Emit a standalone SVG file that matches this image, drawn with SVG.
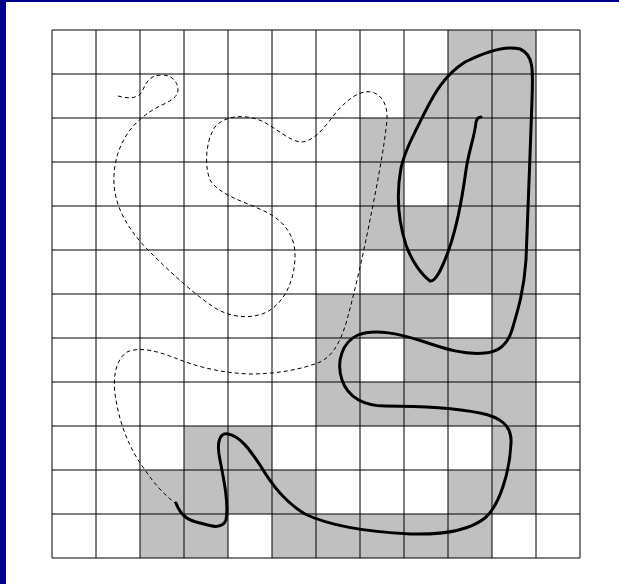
<svg xmlns="http://www.w3.org/2000/svg" width="619" height="584" viewBox="0 0 619 584">
<style>
.g{fill:#c0c0c0;stroke:none}
.ln{stroke:#000;stroke-width:1;fill:none}
.thick{fill:none;stroke:#000;stroke-width:3;stroke-linecap:round;stroke-linejoin:round}
.dash{fill:none;stroke:#000;stroke-width:1;stroke-dasharray:4,3}
</style>
<rect x="0" y="0" width="619" height="584" fill="#fff"/>
<rect x="0" y="0" width="619" height="2" fill="#00008b"/>
<rect x="0" y="0" width="6" height="584" fill="#00008b"/>
<g id="cells">
<rect class="g" x="448" y="30" width="88" height="44"/>
<rect class="g" x="404" y="74" width="132" height="44"/>
<rect class="g" x="360" y="118" width="176" height="44"/>
<rect class="g" x="360" y="162" width="44" height="44"/>
<rect class="g" x="448" y="162" width="88" height="44"/>
<rect class="g" x="360" y="206" width="176" height="44"/>
<rect class="g" x="404" y="250" width="132" height="44"/>
<rect class="g" x="316" y="294" width="132" height="44"/>
<rect class="g" x="492" y="294" width="44" height="44"/>
<rect class="g" x="316" y="338" width="44" height="44"/>
<rect class="g" x="404" y="338" width="132" height="44"/>
<rect class="g" x="316" y="382" width="220" height="44"/>
<rect class="g" x="184" y="426" width="88" height="44"/>
<rect class="g" x="492" y="426" width="44" height="44"/>
<rect class="g" x="140" y="470" width="176" height="44"/>
<rect class="g" x="448" y="470" width="88" height="44"/>
<rect class="g" x="140" y="514" width="88" height="44"/>
<rect class="g" x="272" y="514" width="220" height="44"/>
</g>
<g id="grid" class="ln">
<path d="M52,30V558M96,30V558M140,30V558M184,30V558M228,30V558M272,30V558M316,30V558M360,30V558M404,30V558M448,30V558M492,30V558M536,30V558M580,30V558"/>
<path d="M52,30H580M52,74H580M52,118H580M52,162H580M52,206H580M52,250H580M52,294H580M52,338H580M52,382H580M52,426H580M52,470H580M52,514H580M52,558H580"/>
</g>
<g id="connectors">
<path id="dashed" class="dash" d="M118,96 C126,98 136,100 142,92 C146,82 150,75 162,75 C172,75 178,82 178,90 C178,98 168,102 160,106 C148,112 138,120 130,130 C118,146 113,165 114,185 C116,210 130,232 150,252 C170,272 195,295 215,308 C230,317 250,320 267,312 C285,302 295,280 295,255 C295,232 280,218 262,210 C240,200 220,195 210,180 C204,165 206,140 215,127 C225,115 245,114 262,121 C276,128 288,140 300,142 C318,142 330,118 340,108 C350,98 360,90 372,92 C382,95 388,105 387,120 C384,150 376,190 369,225 C362,260 355,290 347,320 C342,337 335,355 320,362 C300,370 275,374 250,374 C220,373 195,366 175,358 C160,352 140,346 127,352 C115,360 112,380 116,400 C120,425 130,450 145,470 C155,485 165,495 175,503"/>
<path id="solid" class="thick" d="M176,503 C180,514 186,520 200,523 C210,526 222,530 226,520 C229,505 224,480 220,460 C216,442 220,432 228,434 C240,436 250,450 260,465 C272,485 285,502 305,514 C330,526 370,532 410,534 C445,535 470,530 485,518 C500,505 510,470 511,443 C512,425 500,417 480,413 C455,408 420,406 385,406 C365,406 348,398 342,380 C336,362 342,342 358,335 C375,328 400,334 425,342 C445,349 465,355 485,353 C500,352 508,343 512,330 C518,310 524,290 526,260 C528,220 530,150 532,100 C533,70 534,55 520,49 C505,45 485,52 465,62 C445,75 435,92 425,112 C415,132 405,150 401,168 C396,195 398,220 406,245 C412,262 422,275 430,281 C436,282 442,268 448,252 C456,230 462,200 466,170 C469,150 475,135 476,122 C477,118 479,117 481,117"/>
</g>
</svg>
